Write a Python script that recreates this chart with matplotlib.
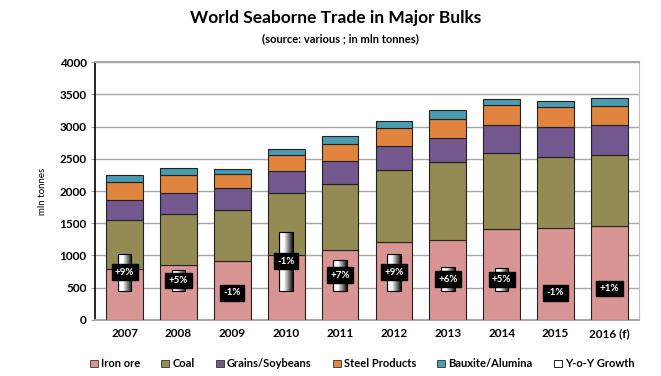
import matplotlib
matplotlib.use("Agg")
import matplotlib.pyplot as plt
import numpy as np
from matplotlib.patches import Patch

plt.rcParams['font.family'] = ['Lato', 'DejaVu Sans']

years = ['2007', '2008', '2009', '2010', '2011', '2012', '2013', '2014', '2015', '2016 (f)']
iron_ore = [786, 848, 910, 1003, 1080, 1204, 1245, 1406, 1421, 1452]
coal = [769, 791, 801, 961, 1033, 1117, 1200, 1178, 1106, 1106]
grains = [300, 325, 330, 341, 347, 372, 382, 434, 460, 460]
steel = [289, 284, 223, 248, 264, 279, 284, 310, 310, 304]
bauxite = [99, 104, 72, 98, 124, 113, 150, 103, 103, 115]
growth = [9, 5, -1, 14.4, 7.5, 9, 5.7, 5.5, -1, 1]
growth_labels = ['+9%', '+5%', '-1%', '-1%', '+7%', '+9%', '+6%', '+5%', '-1%', '+1%']

series = [
    ('Iron ore', iron_ore, '#D99594'),
    ('Coal', coal, '#948A54'),
    ('Grains/Soybeans', grains, '#73578F'),
    ('Steel Products', steel, '#E0843E'),
    ('Bauxite/Alumina', bauxite, '#4A9BB0'),
]

fig = plt.figure(figsize=(6.61, 3.76), dpi=100)
ax = fig.add_axes([0.1437, 0.149, 0.823, 0.686])
x = np.arange(len(years))

bottom = np.zeros(len(years))
for name, vals, col in series:
    ax.bar(x, vals, width=0.68, bottom=bottom, color=col, edgecolor='#222222',
           linewidth=0.8, label=name, zorder=3)
    bottom += np.array(vals)

ax.set_ylim(0, 4000)
ax.set_xlim(-0.55, len(years) - 0.45)
ax.set_yticks(np.arange(0, 4001, 500))
ax.set_xticks(x)
ax.set_xticklabels(years, fontsize=8.5, fontweight='bold')
for lab in ax.get_yticklabels():
    lab.set_fontsize(8.5)
    lab.set_fontweight('bold')
ax.tick_params(axis='x', length=0, pad=6)
ax.tick_params(axis='y', length=3, color='#999999', pad=3)
ax.grid(axis='y', color='#a8a8a8', linewidth=1.0, zorder=0)
ax.set_axisbelow(True)
ax.spines['left'].set_color('black')
ax.spines['left'].set_linewidth(1.2)
ax.spines['top'].set_color('#a8a8a8')
ax.spines['top'].set_linewidth(1.5)
ax.spines['right'].set_color('#c0c0c0')
ax.spines['bottom'].set_color('#a8a8a8')
ax.spines['bottom'].set_linewidth(1.5)
ax.set_ylabel('mln tonnes', fontsize=7, labelpad=9)

# Secondary axis for growth
ax2 = ax.twinx()
span = 4000 / 63.0
ax2.set_ylim(-0.1138 * span, 0.8862 * span)
ax2.set_yticks([])
for s in ax2.spines.values():
    s.set_visible(False)

grad = np.concatenate([np.linspace(0.35, 1, 10), np.ones(25), np.linspace(1, 0.05, 65)])[None, :]
gbars = ax2.bar(x, growth, width=0.25, color='white', edgecolor='black', linewidth=0.8,
                zorder=4, label='Y-o-Y Growth')
for rect in gbars:
    x0, y0 = rect.get_x(), rect.get_y()
    w, h = rect.get_width(), rect.get_height()
    if abs(h) < 1e-9:
        continue
    ylo, yhi = min(y0, y0 + h), max(y0, y0 + h)
    im = ax2.imshow(grad, cmap='gray', vmin=0, vmax=1, aspect='auto',
                    extent=[x0, x0 + w, ylo, yhi], zorder=4.5, interpolation='bilinear')
    im.set_clip_path(rect)
    rect.set_zorder(5)
    rect.set_facecolor('none')

for xi, g, lab in zip(x, growth, growth_labels):
    ax2.text(xi, g / 2.0, lab, ha='center', va='center', color='white', fontsize=7,
             fontweight='bold', zorder=6,
             bbox=dict(boxstyle='square,pad=0.35', facecolor='black', edgecolor='black'))
ax2.set_xlim(ax.get_xlim())

leg_handles = [Patch(facecolor=c, edgecolor='#333333', linewidth=0.6) for _, _, c in series]
leg_handles.append(Patch(facecolor='white', edgecolor='black', linewidth=0.6))
leg_labels = [n for n, _, _ in series] + ['Y-o-Y Growth']
fig.legend(leg_handles, leg_labels, loc='center', bbox_to_anchor=(0.548, 0.032), ncol=6,
           frameon=False, handlelength=0.7, handleheight=0.7,
           handletextpad=0.3, columnspacing=1.9, prop={'weight': 'bold', 'size': 8})

fig.text(0.507, 0.952, 'World Seaborne Trade in Major Bulks', ha='center', va='center',
         fontsize=12.5, fontweight='bold')
fig.text(0.515, 0.898, '(source: various ; in mln tonnes)', ha='center', va='center',
         fontsize=8, fontweight='bold')

fig.savefig('out.png', dpi=100)
